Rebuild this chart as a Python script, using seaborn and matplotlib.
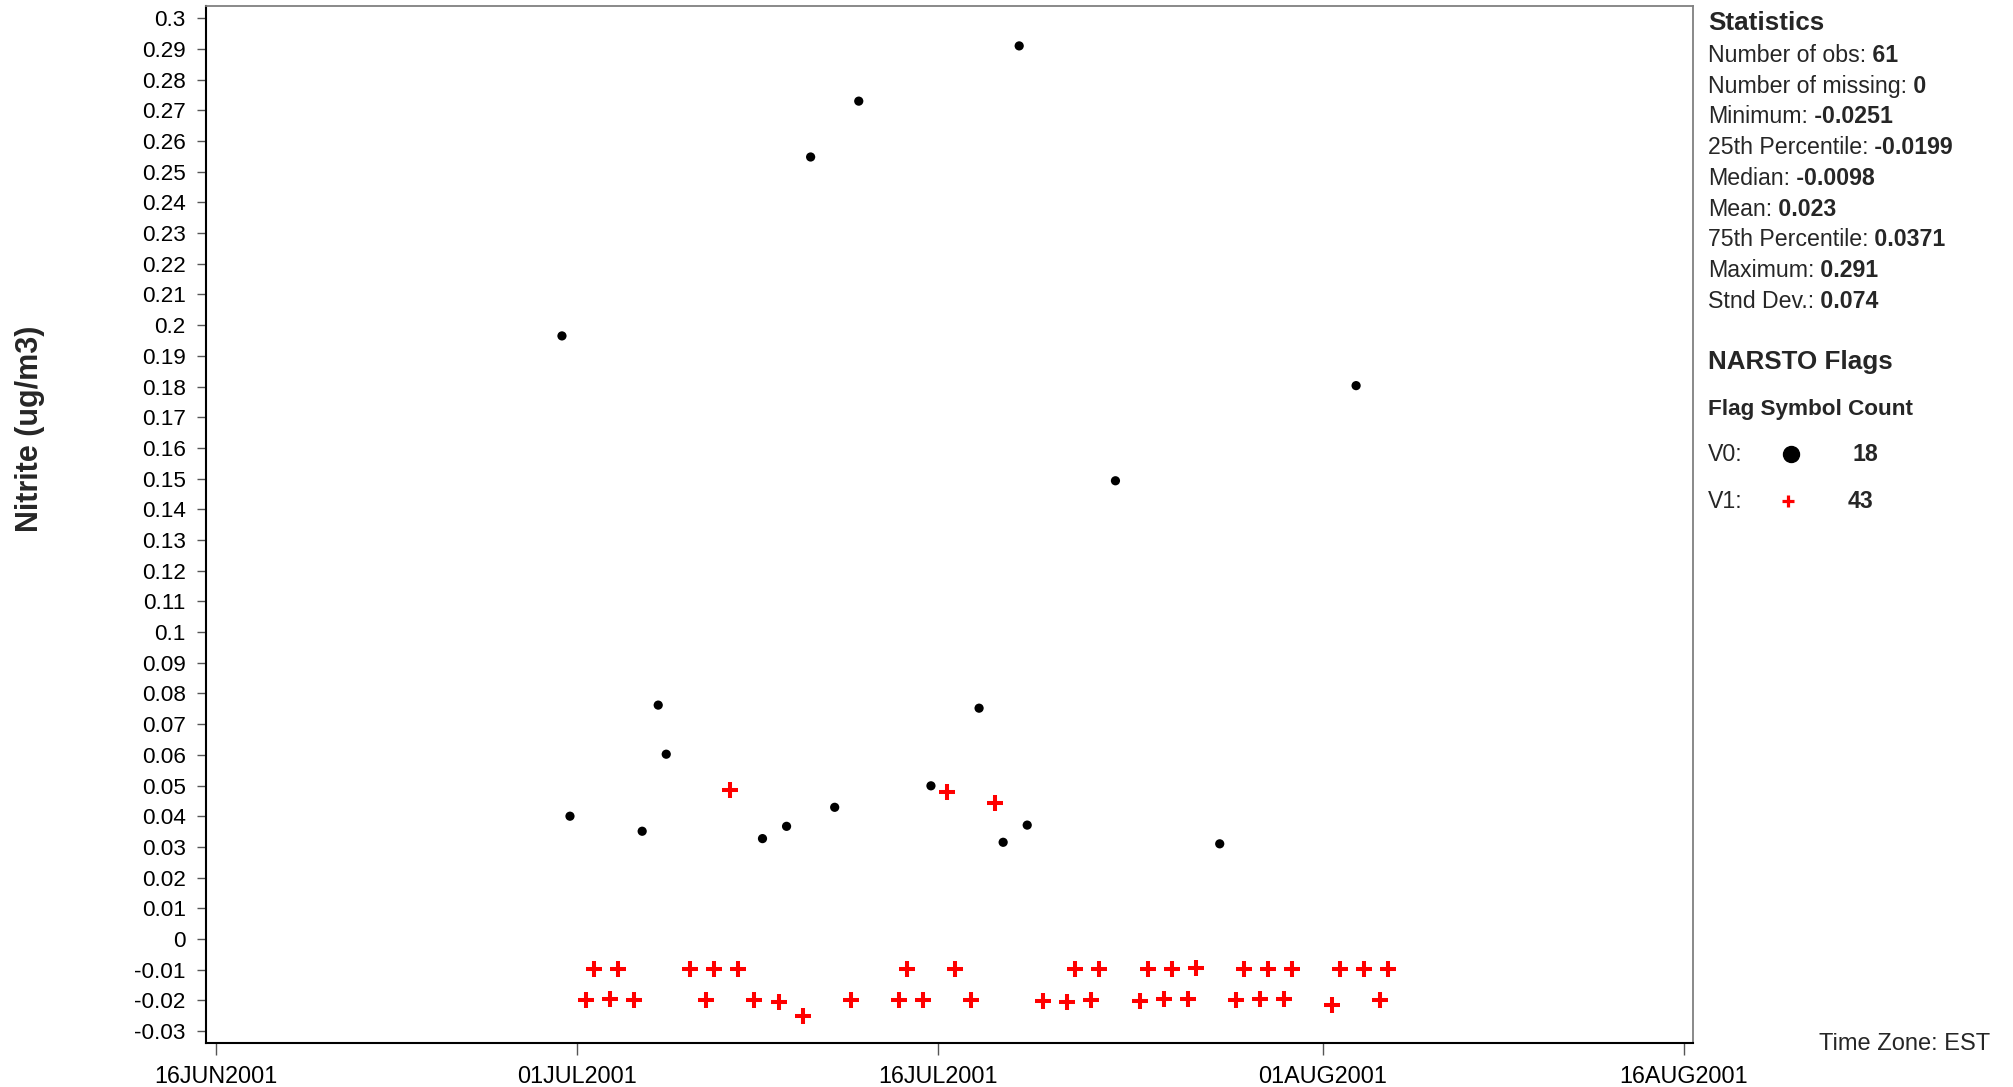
import numpy as np
import pandas as pd
import matplotlib.pyplot as plt
from matplotlib.lines import Line2D
import seaborn as sns

# --------------
# Data
# --------------
# V0 flagged samples (valid)
v0_dates = ['2001-06-30 09:00', '2001-06-30 17:00', '2001-07-03 17:00', '2001-07-04 09:00',
            '2001-07-04 17:00', '2001-07-08 17:00', '2001-07-09 17:00', '2001-07-10 17:00',
            '2001-07-11 17:00', '2001-07-12 17:00', '2001-07-15 17:00', '2001-07-17 17:00',
            '2001-07-18 17:00', '2001-07-19 09:00', '2001-07-19 17:00', '2001-07-23 09:00',
            '2001-07-27 17:00', '2001-08-02 09:00']
v0_values = [0.1965, 0.0400, 0.0351, 0.0762,
             0.0602, 0.0327, 0.0367, 0.2548,
             0.0429, 0.2730, 0.0499, 0.0752,
             0.0315, 0.2910, 0.0371, 0.1493,
             0.0310, 0.1803]

# V1 flagged samples (below detection limit)
v1_dates = ['2001-07-07 09:00', '2001-07-16 09:00', '2001-07-18 09:00',
            # afternoon samples
            '2001-07-01 17:00', '2001-07-02 17:00', '2001-07-05 17:00', '2001-07-06 17:00',
            '2001-07-07 17:00', '2001-07-14 17:00', '2001-07-16 17:00', '2001-07-21 17:00',
            '2001-07-22 17:00', '2001-07-24 17:00', '2001-07-25 17:00', '2001-07-26 17:00',
            '2001-07-28 17:00', '2001-07-29 17:00', '2001-07-30 17:00', '2001-08-01 17:00',
            '2001-08-02 17:00', '2001-08-03 17:00',
            # morning samples
            '2001-07-01 09:00', '2001-07-02 09:00', '2001-07-03 09:00', '2001-07-06 09:00',
            '2001-07-08 09:00', '2001-07-09 09:00', '2001-07-10 09:00', '2001-07-12 09:00',
            '2001-07-14 09:00', '2001-07-15 09:00', '2001-07-17 09:00', '2001-07-20 09:00',
            '2001-07-21 09:00', '2001-07-22 09:00', '2001-07-24 09:00', '2001-07-25 09:00',
            '2001-07-26 09:00', '2001-07-28 09:00', '2001-07-29 09:00', '2001-07-30 09:00',
            '2001-08-01 09:00', '2001-08-03 09:00']
v1_values = [0.0487, 0.0478, 0.0442,
             -0.0098, -0.0097, -0.0098, -0.0098,
             -0.0098, -0.0098, -0.0098, -0.0098,
             -0.0098, -0.0098, -0.0098, -0.0095,
             -0.0098, -0.0098, -0.0098, -0.0098,
             -0.0098, -0.0098,
             -0.0199, -0.0197, -0.0199, -0.0199,
             -0.0199, -0.0204, -0.0251, -0.0199,
             -0.0199, -0.0199, -0.0200, -0.0203,
             -0.0207, -0.0199, -0.0203, -0.0197,
             -0.0195, -0.0199, -0.0197, -0.0195,
             -0.0216, -0.0199]

x_tick_dates = ['2001-06-16', '2001-07-01', '2001-07-16', '2001-08-01', '2001-08-16']
x_tick_labels = ['16JUN2001', '01JUL2001', '16JUL2001', '01AUG2001', '16AUG2001']
y_ticks = np.round(np.arange(-0.03, 0.3001, 0.01), 2)

stat_names = ['Number of obs:', 'Number of missing:', 'Minimum:', '25th Percentile:',
              'Median:', 'Mean:', '75th Percentile:', 'Maximum:', 'Stnd Dev.:']
stat_values = ['61', '0', '-0.0251', '-0.0199', '-0.0098', '0.023', '0.0371', '0.291', '0.074']
flag_names = ['V0:', 'V1:']
flag_counts = ['18', '43']

df_v0 = pd.DataFrame({'date': pd.to_datetime(v0_dates), 'nitrite': v0_values})
df_v1 = pd.DataFrame({'date': pd.to_datetime(v1_dates), 'nitrite': v1_values})

# --------------
# Plot
# --------------
sns.set_theme(style='ticks')
plt.rcParams['font.family'] = ['Liberation Sans', 'DejaVu Sans']

W, H = 2013, 1087
fig = plt.figure(figsize=(W / 100, H / 100), dpi=100)
ax = fig.add_axes([206 / W, 1 - 1043 / H, 1487 / W, 1037 / H])

sns.scatterplot(data=df_v0, x='date', y='nitrite', ax=ax, color='black',
                marker='o', s=44, edgecolor='none', linewidth=0)
sns.scatterplot(data=df_v1, x='date', y='nitrite', ax=ax, color='red',
                marker='+', s=125, linewidth=2.9)

ax.set_xlim(pd.Timestamp('2001-06-15 14:00'), pd.Timestamp('2001-08-16 09:00'))
ax.set_ylim(-0.0339, 0.304)
ax.set_xticks(pd.to_datetime(x_tick_dates))
ax.set_xticklabels(x_tick_labels)
ax.set_yticks(y_ticks)
ax.set_yticklabels(['{:g}'.format(v + 0.0) for v in y_ticks])
ax.set_xlabel('')
ax.set_ylabel('')

for side in ['left', 'bottom']:
    ax.spines[side].set_color('black')
    ax.spines[side].set_linewidth(1.5)
for side in ['top', 'right']:
    ax.spines[side].set_visible(True)
    ax.spines[side].set_color('#808080')
    ax.spines[side].set_linewidth(1.3)

ax.tick_params(axis='y', length=6.5, width=1, color='#555555', labelsize=16.2,
               pad=8, labelcolor='black')
ax.tick_params(axis='x', length=8.6, width=1, color='#555555', labelsize=16.8,
               pad=7, labelcolor='black')

fig.text(30 / W, 1 - 429 / H, 'Nitrite (ug/m3)', rotation=90, ha='center',
         va='center', fontsize=22, fontweight='bold')

# Statistics panel
x0 = 1708 / W
fig.text(x0, 1 - 23 / H, 'Statistics', ha='left', va='center', fontsize=18.7,
         fontweight='bold')
for i, (name, val) in enumerate(zip(stat_names, stat_values)):
    y = 1 - (55.5 + 30.7 * i) / H
    t = fig.text(x0, y, name, ha='left', va='center', fontsize=16.7)
    ax.annotate(' ' + val, xy=(1, 0.5), xycoords=t, ha='left', va='center',
                fontsize=16.7, fontweight='bold')

fig.text(x0, 1 - 362 / H, 'NARSTO Flags', ha='left', va='center', fontsize=18.7,
         fontweight='bold')
fig.text(x0, 1 - 409.5 / H, 'Flag Symbol Count', ha='left', va='center',
         fontsize=16.2, fontweight='bold')

flag_y = [454.5, 501]
fig.text(x0, 1 - flag_y[0] / H, flag_names[0], ha='left', va='center', fontsize=16.7)
fig.add_artist(Line2D([1791 / W], [1 - flag_y[0] / H], marker='o', color='black',
                      markersize=11.5, linestyle='none', transform=fig.transFigure))
fig.text(1852 / W, 1 - flag_y[0] / H, flag_counts[0], ha='left', va='center',
         fontsize=16.7, fontweight='bold')
fig.text(x0, 1 - flag_y[1] / H, flag_names[1], ha='left', va='center', fontsize=16.7)
fig.add_artist(Line2D([1788 / W], [1 - flag_y[1] / H], marker='+', color='red',
                      markersize=8, markeredgewidth=2.3, linestyle='none',
                      transform=fig.transFigure))
fig.text(1848 / W, 1 - flag_y[1] / H, flag_counts[1], ha='left', va='center',
         fontsize=16.7, fontweight='bold')

fig.text(1990 / W, 1 - 1044 / H, 'Time Zone: EST', ha='right', va='center', fontsize=17)

fig.savefig('out.png', dpi=100)
plt.close()
print('// complete ....... figure: out.png')
